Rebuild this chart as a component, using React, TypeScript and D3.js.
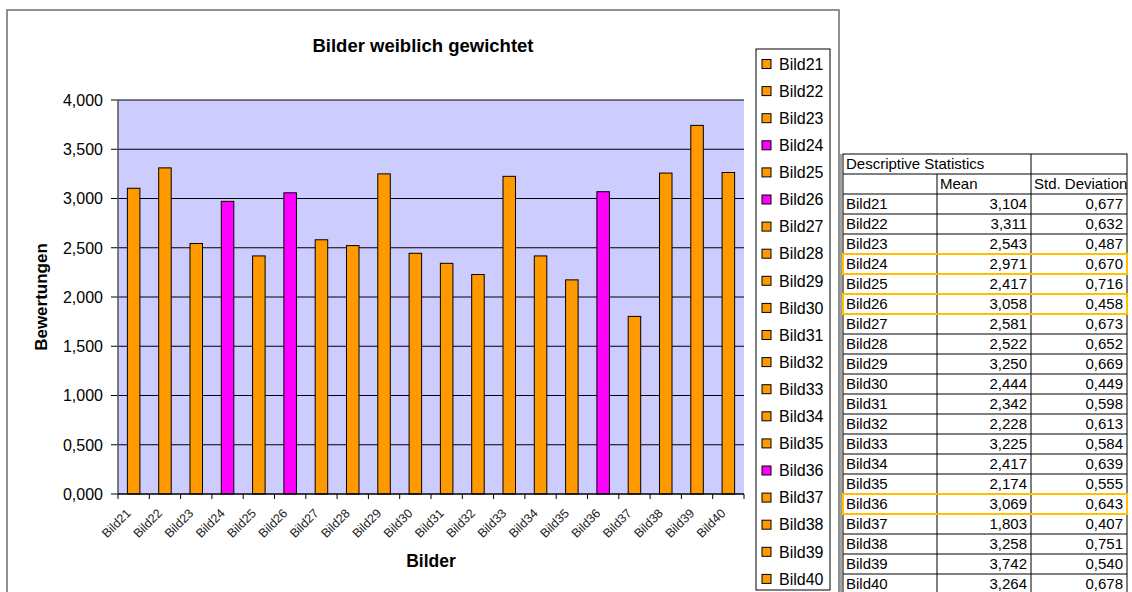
import * as d3 from 'd3';

const bilder = ['Bild21', 'Bild22', 'Bild23', 'Bild24', 'Bild25', 'Bild26', 'Bild27', 'Bild28', 'Bild29', 'Bild30',
  'Bild31', 'Bild32', 'Bild33', 'Bild34', 'Bild35', 'Bild36', 'Bild37', 'Bild38', 'Bild39', 'Bild40'];
const means = [3.104, 3.311, 2.543, 2.971, 2.417, 3.058, 2.581, 2.522, 3.25, 2.444,
  2.342, 2.228, 3.225, 2.417, 2.174, 3.069, 1.803, 3.258, 3.742, 3.264];
const stdDevs = [0.677, 0.632, 0.487, 0.67, 0.716, 0.458, 0.673, 0.652, 0.669, 0.449,
  0.598, 0.613, 0.584, 0.639, 0.555, 0.643, 0.407, 0.751, 0.54, 0.678];
const highlighted = ['Bild24', 'Bild26', 'Bild36'];
const yTicks = [0, 0.5, 1, 1.5, 2, 2.5, 3, 3.5, 4];

const ORANGE = '#ff9900';
const MAGENTA = '#ff00ff';
const font = 'Arial, "Liberation Sans", sans-serif';
const fmt = (v: number) => v.toFixed(3).replace('.', ',');

export default function App() {
  const plot = { left: 118, right: 744, top: 100, bottom: 494 };
  const x = d3.scaleBand().domain(bilder).range([plot.left, plot.right]).paddingInner(0.6).paddingOuter(0.3);
  const y = d3.scaleLinear().domain([0, 4]).range([plot.bottom, plot.top]);
  const step = x.step();
  const color = (b: string) => (highlighted.includes(b) ? MAGENTA : ORANGE);

  // table geometry
  const tLeft = 843, c1 = 937, c2 = 1031, tRight = 1127, tTop = 154, rowH = 20;
  const rowY = (i: number) => tTop + rowH * (i + 2);

  return (
    <svg width={1132} height={592} style={{ position: 'absolute', left: 0, top: 0 }} fontFamily={font}>
      <rect x={0} y={0} width={1132} height={592} fill="#fff" />
      {/* chart frame */}
      <path d="M7,600 V10 H839 V600" fill="none" stroke="#6e6e6e" strokeWidth={1.5} />

      <text x={423} y={52} textAnchor="middle" fontSize={18.5} fontWeight="bold">Bilder weiblich gewichtet</text>

      {/* plot area */}
      <rect x={plot.left} y={plot.top} width={plot.right - plot.left} height={plot.bottom - plot.top} fill="#ccccff" />
      {yTicks.map(t => (
        <g key={t}>
          {t > 0 && <line x1={plot.left} x2={plot.right} y1={y(t)} y2={y(t)} stroke="#000" strokeWidth={1} />}
          <line x1={plot.left - 7} x2={plot.left} y1={y(t)} y2={y(t)} stroke="#000" />
          <text x={103} y={y(t)} dy="0.36em" textAnchor="end" fontSize={16}>{fmt(t)}</text>
        </g>
      ))}
      {bilder.map((b, i) => (
        <rect key={b} x={x(b)!} y={y(means[i])} width={x.bandwidth()} height={y(0) - y(means[i])}
          fill={color(b)} stroke="#000" strokeWidth={1} />
      ))}
      <line x1={plot.left} x2={plot.left} y1={plot.top} y2={plot.bottom} stroke="#555" strokeWidth={1.5} />
      <line x1={plot.left} x2={plot.right} y1={plot.bottom} y2={plot.bottom} stroke="#000" strokeWidth={1.5} />
      {d3.range(bilder.length + 1).map(i => (
        <line key={i} x1={plot.left + i * step} x2={plot.left + i * step} y1={plot.bottom} y2={plot.bottom + 5} stroke="#000" />
      ))}
      {bilder.map(b => {
        const cx = x(b)! + x.bandwidth() / 2 - 2;
        return (
          <text key={b} transform={`translate(${cx},514) rotate(-45)`} textAnchor="end" fontSize={12.5} fill="#222">{b}</text>
        );
      })}

      <text transform="translate(47,297) rotate(-90)" textAnchor="middle" fontSize={17} fontWeight="bold">Bewertungen</text>
      <text x={431} y={567} textAnchor="middle" fontSize={17.5} fontWeight="bold">Bilder</text>

      {/* legend */}
      <rect x={756} y={49} width={74} height={541} fill="#fff" stroke="#000" strokeWidth={1} />
      {bilder.map((b, i) => {
        const cy = 64 + 27.1 * i;
        return (
          <g key={b}>
            <rect x={762} y={cy - 4.5} width={9} height={9} fill={color(b)} stroke="#000" />
            <text x={779} y={cy} dy="0.36em" fontSize={16}>{b}</text>
          </g>
        );
      })}

      {/* table */}
      <g fontSize={15} fill="#000">
        <line x1={841} x2={841} y1={tTop} y2={600} stroke="#444" />
        <rect x={tLeft} y={tTop} width={tRight - tLeft} height={rowH * 2 + rowH * bilder.length + 5} fill="none" stroke="#000" />
        <line x1={c2} x2={c2} y1={tTop} y2={600} stroke="#000" />
        <line x1={c1} x2={c1} y1={tTop + rowH} y2={600} stroke="#000" />
        {d3.range(1, bilder.length + 2).map(i => (
          <line key={i} x1={tLeft} x2={tRight} y1={tTop + rowH * i} y2={tTop + rowH * i} stroke="#000" />
        ))}
        <text x={tLeft + 3} y={tTop + 15}>Descriptive Statistics</text>
        <text x={c1 + 3} y={tTop + rowH + 15}>Mean</text>
        <text x={c2 + 3} y={tTop + rowH + 15}>Std. Deviation</text>
        {bilder.map((b, i) => (
          <g key={b}>
            <text x={tLeft + 3} y={rowY(i) + 15}>{b}</text>
            <text x={c2 - 4} y={rowY(i) + 15} textAnchor="end">{fmt(means[i])}</text>
            <text x={tRight - 4} y={rowY(i) + 15} textAnchor="end">{fmt(stdDevs[i])}</text>
          </g>
        ))}
        {bilder.map((b, i) => highlighted.includes(b) && (
          <rect key={b} x={tLeft} y={rowY(i)} width={tRight - tLeft} height={rowH} fill="none" stroke="#ffc000" strokeWidth={2} />
        ))}
      </g>
    </svg>
  );
}
